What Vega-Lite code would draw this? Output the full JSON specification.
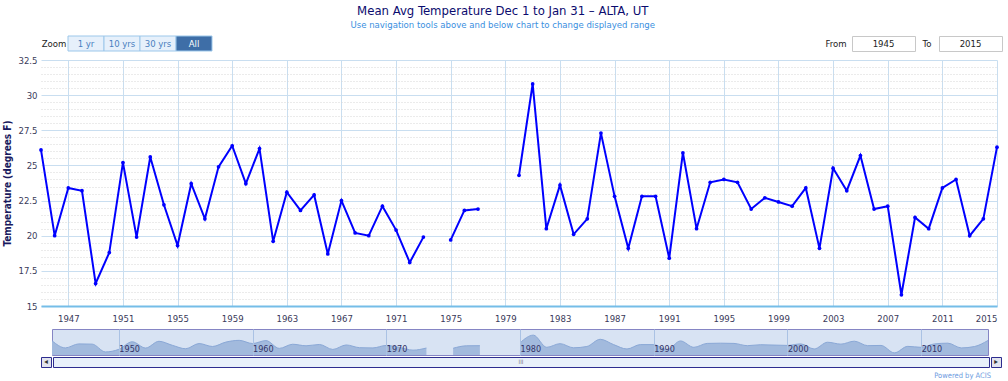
{
  "$schema": "https://vega.github.io/schema/vega-lite/v6.json",
  "padding": {"left": 2, "top": 5, "right": 0, "bottom": 0},
  "title": {
    "text": "Mean Avg Temperature Dec 1 to Jan 31 – ALTA, UT",
    "subtitle": "Use navigation tools above and below chart to change displayed range",
    "anchor": "middle",
    "fontSize": 13,
    "fontWeight": "normal",
    "color": "#0b0b6e",
    "subtitleColor": "#3a8fe0",
    "subtitleFontSize": 9.5,
    "subtitlePadding": 2,
    "offset": 6
  },
  "datasets": {
    "temps": [
      {"year": 1945, "temp": 26.1}, {"year": 1946, "temp": 20.0}, {"year": 1947, "temp": 23.4},
      {"year": 1948, "temp": 23.2}, {"year": 1949, "temp": 16.6}, {"year": 1950, "temp": 18.8},
      {"year": 1951, "temp": 25.2}, {"year": 1952, "temp": 19.9}, {"year": 1953, "temp": 25.6},
      {"year": 1954, "temp": 22.2}, {"year": 1955, "temp": 19.3}, {"year": 1956, "temp": 23.7},
      {"year": 1957, "temp": 21.2}, {"year": 1958, "temp": 24.9}, {"year": 1959, "temp": 26.4},
      {"year": 1960, "temp": 23.7}, {"year": 1961, "temp": 26.2}, {"year": 1962, "temp": 19.6},
      {"year": 1963, "temp": 23.1}, {"year": 1964, "temp": 21.8}, {"year": 1965, "temp": 22.9},
      {"year": 1966, "temp": 18.7}, {"year": 1967, "temp": 22.5}, {"year": 1968, "temp": 20.2},
      {"year": 1969, "temp": 20.0}, {"year": 1970, "temp": 22.1}, {"year": 1971, "temp": 20.4},
      {"year": 1972, "temp": 18.1}, {"year": 1973, "temp": 19.9}, {"year": 1974, "temp": null},
      {"year": 1975, "temp": 19.7}, {"year": 1976, "temp": 21.8}, {"year": 1977, "temp": 21.9},
      {"year": 1978, "temp": null}, {"year": 1979, "temp": null}, {"year": 1980, "temp": 24.3},
      {"year": 1981, "temp": 30.8}, {"year": 1982, "temp": 20.5}, {"year": 1983, "temp": 23.6},
      {"year": 1984, "temp": 20.1}, {"year": 1985, "temp": 21.2}, {"year": 1986, "temp": 27.3},
      {"year": 1987, "temp": 22.8}, {"year": 1988, "temp": 19.1}, {"year": 1989, "temp": 22.8},
      {"year": 1990, "temp": 22.8}, {"year": 1991, "temp": 18.4}, {"year": 1992, "temp": 25.9},
      {"year": 1993, "temp": 20.5}, {"year": 1994, "temp": 23.8}, {"year": 1995, "temp": 24.0},
      {"year": 1996, "temp": 23.8}, {"year": 1997, "temp": 21.9}, {"year": 1998, "temp": 22.7},
      {"year": 1999, "temp": 22.4}, {"year": 2000, "temp": 22.1}, {"year": 2001, "temp": 23.4},
      {"year": 2002, "temp": 19.1}, {"year": 2003, "temp": 24.8}, {"year": 2004, "temp": 23.2},
      {"year": 2005, "temp": 25.7}, {"year": 2006, "temp": 21.9}, {"year": 2007, "temp": 22.1},
      {"year": 2008, "temp": 15.8}, {"year": 2009, "temp": 21.3}, {"year": 2010, "temp": 20.5},
      {"year": 2011, "temp": 23.4}, {"year": 2012, "temp": 24.0}, {"year": 2013, "temp": 20.0},
      {"year": 2014, "temp": 21.2}, {"year": 2015, "temp": 26.3}
    ]
  },
  "spacing": 5,
  "vconcat": [
    {
      "spacing": 3,
      "vconcat": [
        {
          "spacing": 0,
          "hconcat": [
            {
              "width": 26, "height": 15,
              "data": {"values": [{"t": "Zoom"}]},
              "mark": {"type": "text", "fontSize": 9.5, "color": "#222222"},
              "encoding": {"text": {"field": "t"}}
            },
            {
              "width": 144, "height": 15,
              "data": {"values": [{"button": "1 yr"}, {"button": "10 yrs"}, {"button": "30 yrs"}, {"button": "All"}]},
              "encoding": {
                "x": {"field": "button", "type": "nominal", "sort": null, "scale": {"paddingInner": 0, "paddingOuter": 0}, "axis": null}
              },
              "layer": [
                {
                  "mark": {"type": "rect", "stroke": "#9cc7ea", "strokeWidth": 1},
                  "encoding": {"fill": {"condition": {"test": "datum.button === 'All'", "value": "#3e6ea7"}, "value": "#e6f0fb"}}
                },
                {
                  "mark": {"type": "text", "fontSize": 9.5},
                  "encoding": {
                    "text": {"field": "button"},
                    "color": {"condition": {"test": "datum.button === 'All'", "value": "#ffffff"}, "value": "#4a7fc0"},
                    "fontWeight": {"condition": {"test": "datum.button === 'All'", "value": "bold"}, "value": "normal"}
                  }
                }
              ]
            },
            {
              "width": 608, "height": 15,
              "data": {"values": [{"t": ""}]},
              "mark": {"type": "text"},
              "encoding": {"text": {"field": "t"}}
            },
            {
              "width": 30, "height": 15,
              "data": {"values": [{"t": "From"}]},
              "mark": {"type": "text", "fontSize": 9.5, "color": "#222222"},
              "encoding": {"text": {"field": "t"}}
            },
            {
              "width": 63, "height": 15,
              "data": {"values": [{"t": "1945"}]},
              "view": {"fill": "#ffffff", "stroke": "#c8c8c8"},
              "mark": {"type": "text", "fontSize": 9.5, "color": "#222222"},
              "encoding": {"text": {"field": "t"}}
            },
            {
              "width": 22, "height": 15,
              "data": {"values": [{"t": "To"}]},
              "mark": {"type": "text", "fontSize": 9.5, "color": "#222222"},
              "encoding": {"text": {"field": "t"}}
            },
            {
              "width": 63, "height": 15,
              "data": {"values": [{"t": "2015"}]},
              "view": {"fill": "#ffffff", "stroke": "#c8c8c8"},
              "mark": {"type": "text", "fontSize": 9.5, "color": "#222222"},
              "encoding": {"text": {"field": "t"}}
            }
          ]
        },
        {
          "width": 956, "height": 246,
          "data": {"name": "temps"},
          "mark": {
            "type": "line", "color": "#0000ff", "strokeWidth": 2,
            "invalid": "break-paths-show-domains",
            "point": {"filled": true, "size": 14, "color": "#0000ff"}
          },
          "encoding": {
            "x": {
              "field": "year", "type": "quantitative",
              "scale": {"domain": [1945, 2015], "nice": false, "zero": false},
              "axis": {
                "title": null,
                "values": [1947, 1951, 1955, 1959, 1963, 1967, 1971, 1975, 1979, 1983, 1987, 1991, 1995, 1999, 2003, 2007, 2011, 2015],
                "format": "d", "grid": true, "gridColor": "#c9def0", "gridWidth": 1,
                "domainColor": "#75bde8", "domainWidth": 2, "ticks": false,
                "labelPadding": 7, "labelFontSize": 9.5, "labelColor": "#3a3a5a"
              }
            },
            "y": {
              "field": "temp", "type": "quantitative",
              "scale": {"domain": [15, 32.5], "nice": false, "zero": false},
              "axis": {
                "title": "Temperature (degrees F)",
                "titleFontSize": 10, "titleFontWeight": "bold", "titleColor": "#1a1a5e", "titlePadding": 5,
                "values": [15, 15.5, 16, 16.5, 17, 17.5, 18, 18.5, 19, 19.5, 20, 20.5, 21, 21.5, 22, 22.5, 23, 23.5, 24, 24.5, 25, 25.5, 26, 26.5, 27, 27.5, 28, 28.5, 29, 29.5, 30, 30.5, 31, 31.5, 32, 32.5],
                "format": "~g",
                "labelExpr": "datum.value % 2.5 === 0 ? datum.label : ''",
                "gridDash": {"condition": {"test": "datum.value % 2.5 === 0", "value": []}, "value": [1, 2]},
                "gridColor": {"condition": {"test": "datum.value % 2.5 === 0", "value": "#c9def0"}, "value": "#d6d6d6"},
                "domain": false, "ticks": false, "labelPadding": 4,
                "labelFontSize": 9.5, "labelColor": "#3a3a5a"
              }
            }
          }
        }
      ]
    },
    {
      "spacing": 0,
      "vconcat": [
        {
          "spacing": 0,
          "hconcat": [
            {
              "width": 10, "height": 26,
              "data": {"values": [{"t": ""}]},
              "mark": {"type": "text"},
              "encoding": {"text": {"field": "t"}}
            },
            {
              "width": 936, "height": 26,
              "data": {"name": "temps"},
              "view": {"fill": "#d8e3f3", "stroke": "#8585c4"},
              "mark": {
                "type": "area", "interpolate": "monotone", "invalid": "break-paths-show-domains",
                "clip": true,
                "color": "#a2badd", "opacity": 1,
                "line": {"color": "#8aa8d6", "strokeWidth": 1}
              },
              "encoding": {
                "x": {
                  "field": "year", "type": "quantitative",
                  "scale": {"domain": [1945, 2015], "nice": false, "zero": false},
                  "axis": {
                    "title": null, "values": [1950, 1960, 1970, 1980, 1990, 2000, 2010], "format": "d",
                    "grid": true, "gridColor": "#aac2e4", "ticks": false, "domain": false,
                    "labelAlign": "left", "labelDx": 2, "labelBaseline": "bottom", "labelPadding": -2,
                    "labelFontSize": 9, "labelColor": "#333366", "zindex": 1
                  }
                },
                "y": {
                  "field": "temp", "type": "quantitative",
                  "scale": {"domain": [14, 36], "nice": false, "zero": false},
                  "axis": null
                }
              }
            },
            {
              "width": 10, "height": 26,
              "data": {"values": [{"t": ""}]},
              "mark": {"type": "text"},
              "encoding": {"text": {"field": "t"}}
            }
          ]
        },
        {
          "spacing": 0,
          "hconcat": [
            {
              "width": 10, "height": 10,
              "data": {"values": [{"t": "◂"}]},
              "view": {"fill": "#e2e4ee", "stroke": "#2d2d8f"},
              "mark": {"type": "text", "fontSize": 8, "color": "#333333"},
              "encoding": {"text": {"field": "t"}}
            },
            {
              "width": 936, "height": 10,
              "data": {"values": [{"t": "III"}]},
              "view": {"fill": "#e8f0fa", "stroke": "#2d2d8f"},
              "mark": {"type": "text", "fontSize": 6, "color": "#777777"},
              "encoding": {"text": {"field": "t"}}
            },
            {
              "width": 10, "height": 10,
              "data": {"values": [{"t": "▸"}]},
              "view": {"fill": "#e2e4ee", "stroke": "#2d2d8f"},
              "mark": {"type": "text", "fontSize": 8, "color": "#333333"},
              "encoding": {"text": {"field": "t"}}
            }
          ]
        },
        {
          "width": 956, "height": 12,
          "data": {"values": [{"t": "Powered by ACIS"}]},
          "mark": {"type": "text", "fontSize": 7.5, "color": "#6e9be0", "align": "right", "dx": -6, "dy": 2},
          "encoding": {"text": {"field": "t"}, "x": {"value": "width"}}
        }
      ]
    }
  ],
  "config": {
    "view": {"stroke": null},
    "font": "Liberation Sans Narrow, DejaVu Sans Condensed, Liberation Sans, sans-serif"
  }
}
